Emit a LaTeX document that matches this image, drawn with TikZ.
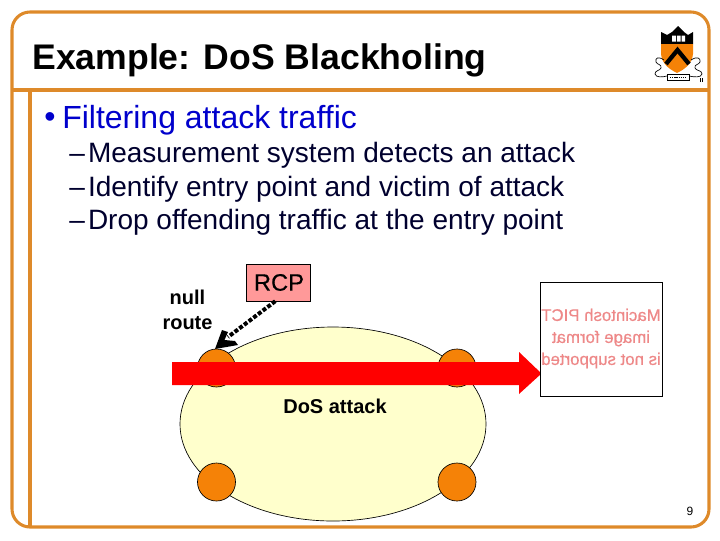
\documentclass[tikz,border=0pt]{standalone}
\usepackage{graphicx}
\usepackage{fontspec}
\setmainfont{Liberation Sans}
\usetikzlibrary{arrows.meta,calc}
\definecolor{frameor}{HTML}{DE8A2A}
\definecolor{bodyblue}{HTML}{0000CC}
\definecolor{subtext}{HTML}{00002E}
\definecolor{nodeor}{HTML}{F58207}
\definecolor{cloudy}{HTML}{FFFFCC}
\definecolor{rcppink}{HTML}{FF9999}
\definecolor{pictpink}{HTML}{EE8888}
\tikzset{
  x=0.75pt,y=-0.75pt,
  frameline/.style={draw=frameor,line width=2.3pt},
  router/.style={circle,draw=black,line width=0.5pt,fill=nodeor,minimum size=28.5pt,inner sep=0pt},
  txt/.style={inner sep=0pt,anchor=base west,align=left},
  lvla/.style={txt,font=\fontsize{24}{28}\selectfont,text=bodyblue},
  lvlb/.style={txt,font=\fontsize{21}{24}\selectfont,text=subtext},
  lab/.style={inner sep=0pt,font=\fontsize{15}{18}\selectfont\bfseries,text=black,align=center},
  crestline/.style={draw=black,line width=0.5pt},
}
\begin{document}
\begin{tikzpicture}
\useasboundingbox (0,0) rectangle (720,540);
% frame
\draw[frameline,rounded corners=13.5pt] (12,12) rectangle (709,527);
\draw[frameline] (12,90) -- (709,90);
\draw[frameline] (30,90) -- (30,527);
% title
\node[txt,font=\fontsize{26.7}{30}\selectfont\bfseries] (title) at (32,69) {Example: DoS Blackholing};
\node[lvla] (b1bullet) at (44,127) {\textbullet};
\node[lvla] (b1) at (62,128) {Filtering attack traffic};
\node[lvlb] (s1) at (69,162) {–\kern2.4pt Measurement system detects an attack};
\node[lvlb] (s2) at (69,196) {–\kern2.4pt Identify entry point and victim of attack};
\node[lvlb] (s3) at (69,229) {–\kern2.4pt Drop offending traffic at the entry point};
% shield
\fill[black] (661,32) -- (667,35) -- (672,32) -- (678,26) -- (684,32) -- (688,35) -- (693,32) -- (693,44) -- (661,44) -- cycle;
\fill[nodeor] (661,44) -- (693,44) -- (693,54) .. controls (692,64) and (685,69) .. (677,73) .. controls (669,69) and (662,64) .. (661,54) -- cycle;
\draw[black,line width=3.2pt] (666,64) -- (677.5,50) -- (689,64);
\fill[white] (672,35.5) rectangle (676,41.5) (677,35.5) rectangle (680.5,41.5) (681.5,35.5) rectangle (685,41.5);
\draw[crestline] (664,60) .. controls (658,56) and (655,58) .. (656,62) .. controls (657,65) and (662,64) .. (661,68) .. controls (660,71) and (655,70) .. (655,74) .. controls (656,78) and (663,77) .. (667,76);
\draw[crestline] (691,60) .. controls (697,56) and (701,58) .. (700,62) .. controls (699,65) and (694,64) .. (695,68) .. controls (696,71) and (702,70) .. (702,74) .. controls (701,78) and (694,77) .. (689,76);
\draw[crestline,fill=white] (667,74) rectangle (689,80);
\draw[crestline,dash pattern=on 1pt off 0.6pt] (670,77) -- (686,77);
\draw[crestline] (700.5,78) -- (700.5,82) (702.5,78) -- (702.5,82);
% network
\draw[black,line width=0.5pt,fill=cloudy] (333,424) ellipse[x radius=153,y radius=97];
\node[router] (r1) at (216.5,368) {};
\node[router] (r2) at (457,368) {};
\node[router] (r3) at (216.5,482) {};
\node[router] (r4) at (457,482) {};
\fill[red] (172,362) -- (519,362) -- (519,352) -- (541.5,373.5) -- (519,394) -- (519,385) -- (172,385) -- cycle;
\node[lab] (dos) at (335,406) {DoS attack};
% RCP
\node[draw=black,line width=0.5pt,fill=rcppink,minimum width=48pt,minimum height=27.5pt,inner sep=0pt,font=\fontsize{17.8}{20}\selectfont\addfontfeature{FakeBold=0.5},text=black] (rcp) at (278.3,282.5) {\hspace*{1pt}RCP};
\node[lab] (null) at (187.5,310) {null\\[1pt]route};
\coordinate (hit) at (215,349);
\coordinate (tail) at ($(hit)+(13,-12)$);
\draw[black,line width=3pt,dash pattern=on 3pt off 1.4pt] (rcp.south) ++(-3,0) -- (tail);
\fill[black] (hit) -- (222,330) -- (228,332) -- (224.5,340) -- (235,341) -- (238,345) -- cycle;
% PICT
\node[draw=black,line width=0.6pt,fill=white,minimum width=91.5pt,minimum height=86pt,inner sep=0pt] (pict) at (601,339.5) {};
\node[inner sep=0pt,text=pictpink,font=\fontsize{12.6}{16.5}\selectfont\addfontfeature{FakeBold=0.5}] (picttext) at (601,338.5) {\reflectbox{\begin{tabular}{@{}c@{}}Macintosh PICT\\image format\\is not supported\end{tabular}}};
\node[inner sep=0pt,font=\fontsize{9}{11}\selectfont,text=black] (page) at (690,511) {9};
\end{tikzpicture}
\end{document}
